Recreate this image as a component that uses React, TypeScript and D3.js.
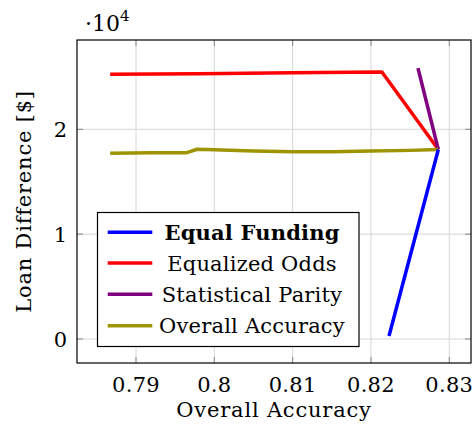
import React from "react";
import * as d3 from "d3";

const xTicks = [0.79, 0.8, 0.81, 0.82, 0.83];
const xTickLabels = ["0.79", "0.8", "0.81", "0.82", "0.83"];
const yTicks = [0, 10000, 20000];
const yTickLabels = ["0", "1", "2"];

const equalFundingX = [0.8223, 0.8286];
const equalFundingY = [290, 18070];
const equalizedOddsX = [0.7867, 0.798, 0.81, 0.8214, 0.8286];
const equalizedOddsY = [25240, 25300, 25400, 25460, 18070];
const statParityX = [0.826, 0.8286];
const statParityY = [25840, 18070];
const overallAccX = [0.7867, 0.792, 0.7965, 0.7978, 0.8, 0.805, 0.81, 0.815, 0.82, 0.825, 0.8286];
const overallAccY = [17710, 17760, 17770, 18100, 18050, 17920, 17850, 17860, 17920, 17990, 18070];

const seriesNames = ["Equal Funding", "Equalized Odds", "Statistical Parity", "Overall Accuracy"];
const seriesColors = ["#0000ff", "#ff0000", "#800080", "#9d9400"];

const W = 474;
const H = 430;
const left = 77, right = 471, top = 40, bottom = 363;

export default function App() {
  const x = d3.scaleLinear().domain([0.79, 0.83]).range([136, 449.3]);
  const y = d3.scaleLinear().domain([0, 20000]).range([339, 129.3]);
  const line = d3.line<[number, number]>().x(d => x(d[0])).y(d => y(d[1]));
  const toPts = (xs: number[], ys: number[]) => xs.map((v, i) => [v, ys[i]] as [number, number]);
  const series = [
    toPts(equalFundingX, equalFundingY),
    toPts(equalizedOddsX, equalizedOddsY),
    toPts(statParityX, statParityY),
    toPts(overallAccX, overallAccY),
  ];
  const drawOrder = [1, 2, 3, 0];
  const font = "'DejaVu Serif', serif";
  const legendX = 97.5, legendY = 212.5, legendW = 261.5, legendH = 134;
  const legendRows = [232.3, 263, 294.3, 325.7];
  return (
    <svg width={W} height={H} style={{ position: "absolute", left: 0, top: 0 }} fontFamily={font}>
      <rect x={0} y={0} width={W} height={H} fill="#fff" />
      <clipPath id="clip">
        <rect x={left} y={top} width={right - left} height={bottom - top} />
      </clipPath>
      {xTicks.map((t, i) => (
        <line key={"gx" + i} x1={x(t)} x2={x(t)} y1={top} y2={bottom} stroke="#d6d6d6" strokeWidth={1} />
      ))}
      {yTicks.map((t, i) => (
        <line key={"gy" + i} x1={left} x2={right} y1={y(t)} y2={y(t)} stroke="#d6d6d6" strokeWidth={1} />
      ))}
      {xTicks.map((t, i) => (
        <g key={"tx" + i}>
          <line x1={x(t)} x2={x(t)} y1={bottom} y2={bottom - 6} stroke="#888" strokeWidth={1} />
          <line x1={x(t)} x2={x(t)} y1={top} y2={top + 6} stroke="#888" strokeWidth={1} />
          <text x={x(t)} y={392} textAnchor="middle" fontSize={21} letterSpacing={0.3}>{xTickLabels[i]}</text>
        </g>
      ))}
      {yTicks.map((t, i) => (
        <g key={"ty" + i}>
          <line x1={left} x2={left + 6} y1={y(t)} y2={y(t)} stroke="#888" strokeWidth={1} />
          <line x1={right} x2={right - 6} y1={y(t)} y2={y(t)} stroke="#888" strokeWidth={1} />
          <text x={67} y={y(t) + 7.5} textAnchor="end" fontSize={21}>{yTickLabels[i]}</text>
        </g>
      ))}
      <g clipPath="url(#clip)">
        {drawOrder.map(i => (
          <path key={"s" + i} d={line(series[i]) || ""} fill="none" stroke={seriesColors[i]} strokeWidth={3.5} strokeLinejoin="round" />
        ))}
      </g>
      <rect x={left} y={top} width={right - left} height={bottom - top} fill="none" stroke="#000" strokeWidth={1.2} />
      <rect x={legendX} y={legendY} width={legendW} height={legendH} fill="#fff" stroke="#000" strokeWidth={1.2} />
      {seriesNames.map((n, i) => (
        <g key={"l" + i}>
          <line x1={107.7} x2={152.3} y1={legendRows[i]} y2={legendRows[i]} stroke={seriesColors[i]} strokeWidth={3.5} />
          <text x={252} y={legendRows[i] + 7.5} textAnchor="middle" fontSize={21} letterSpacing={0.2} fontWeight={i === 0 ? "bold" : "normal"}>{n}</text>
        </g>
      ))}
      <text x={274} y={417} textAnchor="middle" fontSize={21} letterSpacing={0.8}>Overall Accuracy</text>
      <text transform={`translate(31,${(top + bottom) / 2}) rotate(-90)`} textAnchor="middle" fontSize={21} letterSpacing={0.8}>Loan Difference [$]</text>
      <text x={85} y={31} fontSize={22}>·10<tspan dy={-10} fontSize={15}>4</tspan></text>
    </svg>
  );
}
